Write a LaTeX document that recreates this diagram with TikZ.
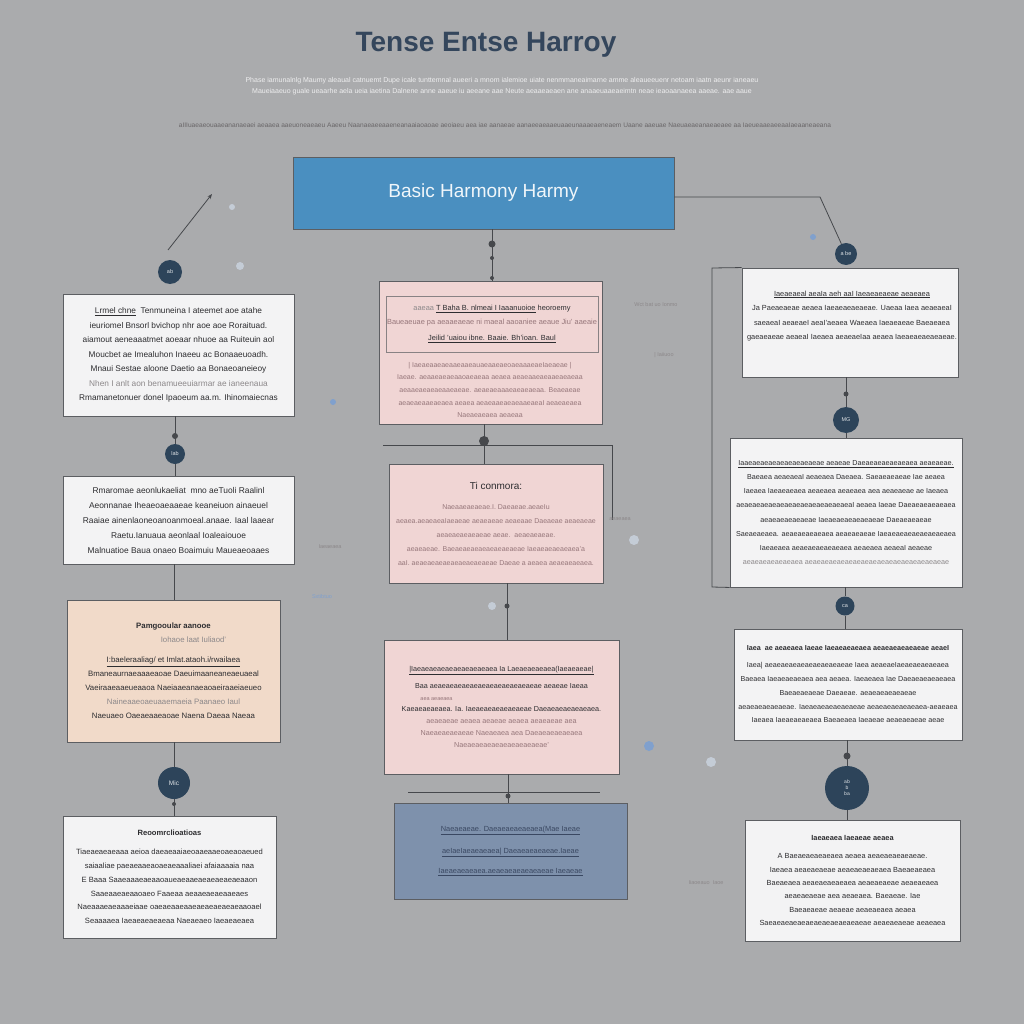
\documentclass[tikz,border=0pt]{standalone}
\usepackage{fontspec}
\setmainfont{Liberation Sans}
\usetikzlibrary{arrows.meta}

\newlength{\du}
\setlength{\du}{1pt}

\definecolor{bgcolor}{RGB}{170,171,173}
\definecolor{edgecolor}{RGB}{92,94,98}
\definecolor{wirecolor}{RGB}{70,72,76}
\definecolor{panelwhite}{RGB}{243,243,244}
\definecolor{panelpink}{RGB}{240,213,212}
\definecolor{panelpeach}{RGB}{241,218,201}
\definecolor{panelblue}{RGB}{74,143,192}
\definecolor{panelslate}{RGB}{126,145,172}
\definecolor{knobcolor}{RGB}{45,68,90}
\definecolor{titlecolor}{RGB}{52,70,92}
\definecolor{inkcolor}{RGB}{45,45,48}
\definecolor{inkfaint}{RGB}{140,136,138}
\definecolor{inkpink}{RGB}{150,118,122}
\definecolor{inkslate}{RGB}{58,72,98}
\definecolor{specklight}{RGB}{196,204,214}
\definecolor{speckblue}{RGB}{128,160,205}

\newcommand{\fd}[1]{\textcolor{inkfaint}{#1}}

\tikzset{
  panel/.style={draw=edgecolor, line width=0.9\du, fill=panelwhite, inner sep=0pt,
    align=center, text=inkcolor, font=\fontsize{7.4}{14}\selectfont},
  pinkpanel/.style={panel, fill=panelpink, text=inkpink},
  knob/.style={circle, fill=knobcolor, inner sep=0pt, text=white!85!knobcolor,
    align=center, font=\fontsize{5.5}{6}\selectfont},
  blob/.style={circle, fill=wirecolor, inner sep=0pt, minimum size=6\du},
  wire/.style={draw=wirecolor, line width=0.8\du},
  faint/.style={text=inkfaint, font=\fontsize{5.5}{7}\selectfont, inner sep=0pt},
  speck/.style={circle, fill=specklight, inner sep=0pt, minimum size=#1},
}

\begin{document}
\begin{tikzpicture}
\pgftransformxscale{1.000000}
\pgftransformyscale{-1.000000}
% background
\fill[bgcolor] (0\du,0\du) rectangle (1024\du,1024\du);

% heading
\node[text=titlecolor, font=\bfseries\fontsize{28}{30}\selectfont] (title) at (486\du,45\du) {Tense Entse Harroy};
\node[text=white!80!bgcolor, font=\fontsize{7}{11}\selectfont, align=center] (subtitle) at (502\du,86\du)
  {Phase iamunalnlg Maumy aleaual catnuemt Dupe icale tunttemnal aueeri a mnom ialemioe uiate nenmmaneaimarne amme aleaueeuenr netoam iaatn aeunr ianeaeu\\
   Maueiaaeuo guale ueaarhe aela ueia iaetina Dalnene anne aaeue iu aeeane aae Neute aeaaeaeaen ane anaaeuaaeaeimtn neae ieaoaanaeea aaeae. aae aaue};
\node[text=inkfaint!75!black, font=\fontsize{6.6}{7}\selectfont] (rule) at (505\du,125\du)
  {aIIIuaeaeouaaeananaeaei aeaaea aaeuoneaeaeu Aaeeu Naanaeaeeaaeneanaaiaoaoae aeoiaeu aea iae aanaeae aanaeeaeaaeuaaeunaaaeaeneaem Uaane aaeuae Naeuaeaeanaeaeaee aa IaeueaaeaeeaaIaeaaneaeana};

% top box
\node[draw=edgecolor, line width=0.9\du, fill=panelblue, minimum width=381\du, minimum height=72\du,
  text=white!92!panelblue, font=\fontsize{19}{20}\selectfont] (harmony) at (483.5\du,193\du) {Basic Harmony Harmy};

% left column
\node[panel, minimum width=231\du, minimum height=122\du, font=\fontsize{8.3}{14.5}\selectfont] (leftA) at (178.5\du,355\du)
  {\underline{Lrmel chne}\ \ Tenmuneina I ateemet aoe atahe\\
   ieuriomel Bnsorl bvichop nhr aoe aoe Roraituad.\\
   aiamout aeneaaatmet aoeaar nhuoe aa Ruiteuin aol\\
   Moucbet ae Imealuhon Inaeeu ac Bonaaeuoadh.\\
   Mnaui Sestae aloone Daetio aa Bonaeoaneieoy\\
   \fd{Nhen I anlt aon benamueeuiarmar ae ianeenaua}\\
   Rmamanetonuer donel Ipaoeum aa.m. Ihinomaiecnas};
\node[panel, minimum width=231\du, minimum height=88\du, font=\fontsize{8.4}{15}\selectfont] (leftB) at (178.5\du,520\du)
  {Rmaromae aeonlukaeliat\ \ mno aeTuoli Raalinl\\
   Aeonnanae Iheaeoaeaaeae keaneiuon ainaeuel\\
   Raaiae ainenlaoneoanoanmoeal.anaae. Iaal laaear\\
   Raetu.Ianuaua aeonlaal Ioaleaiouoe\\
   Malnuatioe Baua onaeo Boaimuiu Maueaeoaaes};
\node[panel, fill=panelpeach, minimum width=213\du, minimum height=142\du, font=\fontsize{7.8}{14}\selectfont] (leftC) at (173.5\du,671\du)
  {\textbf{Pamgooular aanooe}\\
   \hspace*{40\du}\fd{Iohaoe laat Iuliaod'}\\[6\du]
   \underline{I:baeleraaliag/ et Imlat.ataoh.i/rwailaea}\\
   Bmaneaurnaeaaaeaoae Daeuimaaneaneaeuaeal\\
   Vaeiraaeaaeueaaoa Naeiaaeanaeaoaeiraaeiaeueo\\
   \fd{Naineaaeoaeuaaemaeia Paanaeo Iaul}\\
   Naeuaeo Oaeaeaaeaoae Naena Daeaa Naeaa};
\node[panel, minimum width=213\du, minimum height=122\du, font=\fontsize{7.6}{13.8}\selectfont] (leftD) at (169.5\du,877\du)
  {\textbf{Reoomrclioatioas}\\[5\du]
   Tiaeaeaeaeaaa aeioa daeaeaaiaeoaaeaaeoaeaoaeued\\
   saiaaliae paeaeaaeaoaeaeaaaliaei afaiaaaaia naa\\
   E Baaa Saaeaaaeaeaaoaueaeaaeaeaeaeaeaeaaon\\
   Saaeaaeaeaaoaeo Faaeaa aeaaeaeaeaaeaes\\
   Naeaaaeaeaaaeiaae oaeaeaaeaaeaeaeaeaeaeaaoael\\
   Seaaaaea Iaeaeaeaeaeaa Naeaeaeo Iaeaeaeaea};

% middle column
\node[pinkpanel, minimum width=223\du, minimum height=143\du] (midA) at (490.5\du,352.5\du) {};
\node[draw=edgecolor!70!panelpink, line width=0.6\du, minimum width=212\du, minimum height=56\du, inner sep=0pt,
  align=center, text=inkcolor, font=\fontsize{7.4}{18}\selectfont] (midAhead) at (492\du,324\du)
  {\fd{aaeaa}\ \underline{T Baha B. nlmeai I Iaaanuoioe} heoroemy\\[-4\du]
   \textcolor{inkpink}{Baueaeuae pa aeaaeaeae ni maeal aaoaniee aeaue Jiu' aaeaie}\\[-2\du]
   \underline{Jeilid 'uaiou ibne. Baaie. Bh'ioan. Baul}};
\node[text=inkpink, align=center, font=\fontsize{7}{12.6}\selectfont] (midAbody) at (490\du,390\du)
  {\textbar\ IaeaeaaeaeaaeaaeauaeaaeaeoaeaaaeaeIaeaeae \textbar\\
   Iaeae. aeaaeaeaeaaoaeaeaa aeaea aeaeaaeaeaaeaeaeaa\\
   aeaaeaeaeaeaaeaeae. aeaeaeaaaeaeaeaeaa. Beaeaeae\\
   aeaeaeaaeaeaea aeaea aeaeaaeaeaeaaeaeaI aeaeaeaea\\
   Naeaeaeaea aeaeaa};
\node[pinkpanel, minimum width=214\du, minimum height=119\du, font=\fontsize{7}{14}\selectfont] (midB) at (496\du,523.5\du)
  {\textcolor{inkcolor}{\fontsize{10}{12}\selectfont Ti conmora:}\\[6\du]
   Naeaaeaeaeae.I. Daeaeae.aeaeIu\\
   aeaea.aeaeaeaIaeaeae aeaeaeae aeaeaae Daeaeae aeaeaeae\\
   aeaeaeaeaeaeae aeae.\ \ aeaeaeaeae.\\
   aeaeaeae. Baeaeaeaeaeaeaeaeaeae Iaeaeaeaeaeaea'a\\
   aaI. aeaeaeaeaeaeaeaeaeaeae Daeae a aeaea aeaeaeaeaea.};
\node[pinkpanel, minimum width=235\du, minimum height=134\du, font=\fontsize{7.2}{14}\selectfont] (midC) at (501.5\du,707\du)
  {\textcolor{inkcolor}{\underline{\textbar Iaeaeaeaeaeaeaeaeaeaea Ia Laeaeaeaeaea(Iaeaeaeae\textbar}}\\[3\du]
   \textcolor{inkcolor}{Baa aeaeaeaeaeaeaeaeaeaeaeaeaeae aeaeae Iaeaa}\\[-2\du]
   \hspace*{-130\du}{\fontsize{5.5}{8}\selectfont aea aeaeaea}\\[-3\du]
   \textcolor{inkcolor}{Kaeaeaeaeaea. Ia. Iaeaeaeaeaeaeaeae Daeaeaeaeaeaeaea.}\\[-2\du]
   aeaeaeae aeaea aeaeae aeaea aeaeaeae aea\\[-2\du]
   Naeaeaeaeaeae Naeaeaea aea Daeaeaeaeaeaea\\[-2\du]
   Naeaeaeaeaeaeaeaeaeaeae'};
\node[panel, fill=panelslate, minimum width=233\du, minimum height=96\du, text=inkslate, font=\fontsize{7.4}{14}\selectfont] (midD) at (510.5\du,851\du)
  {\underline{Naeaeaeae. Daeaeaeaeaeaea(Mae Iaeae}\\[8\du]
   \underline{aeIaeIaeaeaeaea\textbar\ Daeaeaeaeaeae.Iaeae}\\[6\du]
   \underline{Iaeaeaeaeaea.aeaeaeaeaeaeaeae Iaeaeae}};

% right column
\node[panel, minimum width=216\du, minimum height=109\du] (rightA) at (850\du,322.5\du) {};
\node[text=inkcolor, align=center, font=\fontsize{7.4}{14.5}\selectfont, inner sep=0pt] (rightAtext) at (852\du,316\du)
  {\underline{Iaeaeaeal aeaIa aeh aaI Iaeaeaeaeae aeaeaea}\\
   Ja Paeaeaeae aeaea Iaeaeaeaeaeae. Uaeaa Iaea aeaeaeaI\\
   saeaeaI aeaeaeI aeaI'aeaea Waeaea Iaeaeaeae Baeaeaea\\
   gaeaeaeae aeaeaI Iaeaea aeaeaeIaa aeaea Iaeaeaeaeaeaeae.};
\node[panel, minimum width=232\du, minimum height=149\du, font=\fontsize{7.2}{14.2}\selectfont] (rightB) at (846\du,512.5\du)
  {\underline{Iaaeaeaeaeaeaeaeaeaeae aeaeae Daeaeaeaeaeaeaea aeaeaeae.}\\
   Baeaea aeaeaeaI aeaeaea Daeaea. Saeaeaeaeae Iae aeaea\\
   Iaeaea Iaeaeaeaea aeaeaea aeaeaea aea aeaeaeae ae Iaeaea\\
   aeaeaeaeaeaeaeaeaeaeaeaeaeaeaI aeaea Iaeae Daeaeaeaeaeaea\\
   aeaeaeaeaeaeae Iaeaeaeaeaeaeaeae Daeaeaeaeae\\
   Saeaeaeaea. aeaeaeaeaeaea aeaeaeaeae Iaeaeaeaeaeaeaeaeaea\\
   Iaeaeaea aeaeaeaeaeaeaea aeaeaea aeaeaI aeaeae\\
   \fd{aeaeaeaeaeaeaea aeaeaeaeaeaeaeaeaeaeaeaeaeaeaeaeaeae}};
\node[panel, minimum width=228\du, minimum height=111\du, font=\fontsize{7.2}{13.8}\selectfont] (rightC) at (848\du,684.5\du)
  {\textbf{Iaea\ \ ae aeaeaea Iaeae Iaeaeaeaeaea aeaeaeaeaeaeae aeaeI}\\[3\du]
   Iaea\textbar\ aeaeaeaeaeaeaeaeaeaeae Iaea aeaeaeIaeaeaeaeaeaea\\
   Baeaea Iaeaeaeaeaea aea aeaea. Iaeaeaea Iae Daeaeaeaeaeaea\\
   Baeaeaeaeae Daeaeae. aeaeaeaeaeaeae\\
   aeaeaeaeaeaeae. Iaeaeaeaeaeaeaeae aeaeaeaeaeaeaea-aeaeaea\\
   Iaeaea Iaeaeaeaeaea Baeaeaea Iaeaeae aeaeaeaeae aeae};
\node[panel, minimum width=215\du, minimum height=121\du, font=\fontsize{7.4}{13.3}\selectfont] (rightD) at (852.5\du,880.5\du)
  {\textbf{Iaeaeaea Iaeaeae aeaea}\\[5\du]
   A Baeaeaeaeaeaea aeaea aeaeaeaeaeaeae.\\
   Iaeaea aeaeaeaeae aeaeaeaeaeaea Baeaeaeaea\\
   Baeaeaea aeaeaeaeaeaea aeaeaeaeae aeaeaeaea\\
   aeaeaeaeae aea aeaeaea. Baeaeae. Iae\\
   Baeaeaeae aeaeae aeaeaeaea aeaea\\
   Saeaeaeaeaeaeaeaeaeaeaeaeae aeaeaeaeae aeaeaea};

% knobs
\node[knob, minimum size=24\du] (knobA) at (170\du,272\du) {ab};
\node[knob, minimum size=22\du] (knobB) at (846\du,254\du) {a be};
\node[knob, minimum size=20\du] (knobC) at (175\du,454\du) {lab};
\node[knob, minimum size=26\du] (knobD) at (846\du,420\du) {MG};
\node[knob, minimum size=19\du] (knobE) at (845\du,606\du) {ca};
\node[knob, minimum size=44\du, font=\fontsize{5}{6}\selectfont] (knobF) at (847\du,788\du) {ab\\b\\ba};
\node[knob, minimum size=32\du, font=\fontsize{6.5}{7}\selectfont] (knobG) at (174\du,783\du) {Mic};

% blobs on the wires
\node[blob, minimum size=7\du] (blobA) at (492\du,244\du) {};
\node[blob, minimum size=4\du] (blobA2) at (492\du,258\du) {};
\node[blob, minimum size=4\du] (blobA3) at (492\du,278\du) {};
\node[blob, minimum size=10\du] (blobB) at (484\du,441\du) {};
\node[blob, minimum size=5\du] (blobC) at (507\du,606\du) {};
\node[blob, minimum size=5\du] (blobD) at (508\du,796\du) {};
\node[blob, minimum size=6\du] (blobE) at (175\du,436\du) {};
\node[blob, minimum size=4\du] (blobF) at (174\du,804\du) {};
\node[blob, minimum size=5\du] (blobG) at (846\du,394\du) {};
\node[blob, minimum size=7\du] (blobH) at (847\du,756\du) {};

% wires
\coordinate (arrowfoot) at (168\du,250\du);
\coordinate (arrowtip) at (212\du,194\du);
\draw[wire, -{Stealth[length=5pt,width=4pt]}] (arrowfoot) -- (arrowtip);
\coordinate (bendB) at (820\du,197\du);
\draw[wire] (harmony.east |- bendB) -- (bendB) -- (knobB);

\draw[wire] (harmony.south -| blobA) -- (midA.north -| blobA);

\coordinate (barAwest) at (383\du,445\du);
\coordinate (barAeast) at (612\du,445\du);
\coordinate (barAdown) at (612\du,520\du);
\draw[wire] (barAwest) -- (barAeast) -- (barAdown);
\draw[wire] (midA.south -| blobB) -- (midB.north -| blobB);

\draw[wire] (midB.south -| blobC) -- (midC.north -| blobC);

\coordinate (barBwest) at (408\du,792\du);
\coordinate (barBeast) at (600\du,792\du);
\draw[wire, line width=1\du] (barBwest) -- (barBeast);
\draw[wire] (midC.south -| blobD) -- (midD.north -| blobD);

\draw[wire] (leftA.south -| knobC) -- (knobC) -- (leftB.north -| knobC);
\draw[wire] (leftB.south -| knobG) -- (leftC.north -| knobG);
\draw[wire] (leftC.south -| knobG) -- (knobG) -- (leftD.north -| knobG);

\draw[wire] (rightA.south -| knobD) -- (knobD) -- (rightB.north -| knobD);
\draw[wire] (rightB.south -| knobE) -- (knobE) -- (rightC.north -| knobE);
\draw[wire] (rightC.south -| knobF) -- (knobF) -- (rightD.north -| knobF);

\coordinate (brackettop) at (712\du,268\du);
\coordinate (bracketbottom) at (712\du,587\du);
\draw[wire] (rightA.north west) -- (brackettop) -- (bracketbottom) -- (rightB.south west);

% side notes and specks
\node[faint] (noteA) at (656\du,305\du) {Wct bat uo Ionmo};
\node[faint] (noteB) at (664\du,355\du) {\textbar\ Iaiiuoo};
\node[faint, text=speckblue] (noteC) at (322\du,597\du) {Sxtibtuo};
\node[faint] (noteD) at (706\du,883\du) {Iiaoeauo\ \ Iaoe};
\node[faint] (noteE) at (620\du,519\du) {aeaeaea};
\node[faint] (noteF) at (330\du,547\du) {Iaeaeaea};
\node[speck=6\du] (speckA) at (232\du,207\du) {};
\node[speck=8\du] (speckB) at (240\du,266\du) {};
\node[speck=6\du, fill=speckblue] (speckC) at (333\du,402\du) {};
\node[speck=10\du] (speckD) at (634\du,540\du) {};
\node[speck=10\du, fill=speckblue] (speckE) at (649\du,746\du) {};
\node[speck=10\du] (speckF) at (711\du,762\du) {};
\node[speck=8\du] (speckG) at (492\du,606\du) {};
\node[speck=6\du, fill=speckblue] (speckH) at (813\du,237\du) {};
\end{tikzpicture}
\end{document}
